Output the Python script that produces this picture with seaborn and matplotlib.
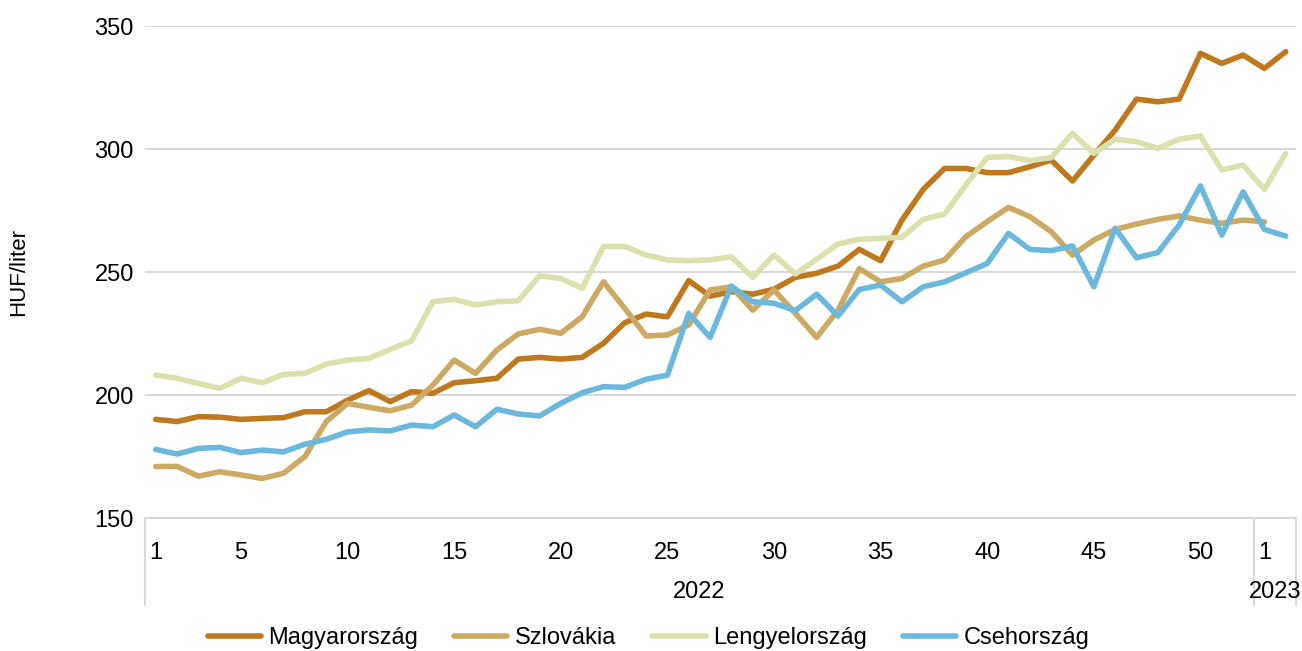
import numpy as np
import pandas as pd
import matplotlib.pyplot as plt
import seaborn as sns

# Weekly fuel prices (HUF/liter), 2022 week 1 .. 2023 week 2
weeks = list(range(1, 53)) + [1, 2]
years = ["2022"] * 52 + ["2023"] * 2

magyarorszag = [190.1, 189.2, 191.2, 191.0, 190.1, 190.5, 190.8, 193.2, 193.2, 197.9,
                201.8, 197.3, 201.4, 200.7, 205.0, 205.8, 206.8, 214.6, 215.3, 214.6,
                215.3, 221.0, 229.4, 232.9, 231.8, 246.5, 240.2, 242.0, 241.0, 243.0,
                247.8, 249.5, 252.4, 259.2, 254.6, 271.1, 283.6, 292.1, 292.1, 290.4,
                290.4, 292.8, 295.5, 287.0, 297.5, 307.7, 320.3, 319.2, 320.3, 338.9,
                334.8, 338.2, 332.8, 339.6]
szlovakia = [170.9, 171.0, 167.0, 168.8, 167.5, 166.1, 168.2, 175.0, 189.2, 196.6,
             195.0, 193.6, 195.9, 204.0, 214.2, 208.8, 218.3, 224.8, 226.7, 225.1,
             231.8, 246.0, 235.2, 224.0, 224.4, 228.5, 242.7, 244.0, 234.5, 242.7,
             233.2, 223.4, 234.5, 251.4, 246.0, 247.4, 252.4, 254.9, 264.4, 270.5,
             276.3, 272.5, 266.4, 256.9, 263.0, 267.3, 269.5, 271.4, 272.8, 271.1,
             269.8, 271.1, 270.4, np.nan]
lengyelorszag = [208.1, 206.8, 204.7, 202.7, 206.8, 205.0, 208.4, 208.8, 212.6, 214.2,
                 214.9, 218.6, 222.0, 237.9, 238.9, 236.6, 237.9, 238.3, 248.4, 247.4,
                 243.4, 260.4, 260.4, 256.9, 254.9, 254.6, 254.9, 256.2, 247.8, 256.9,
                 249.2, 255.2, 261.4, 263.3, 263.7, 264.1, 271.4, 273.6, 285.4, 296.6,
                 296.9, 295.3, 296.5, 306.4, 298.2, 304.0, 303.0, 300.3, 304.0, 305.3,
                 291.5, 293.5, 283.6, 298.2]
csehorszag = [177.9, 176.0, 178.3, 178.7, 176.6, 177.6, 176.9, 180.0, 182.0, 185.0,
              185.8, 185.4, 187.8, 187.1, 191.9, 187.1, 194.2, 192.3, 191.5, 196.6,
              200.9, 203.4, 203.1, 206.4, 208.1, 233.2, 223.4, 244.3, 237.9, 237.3,
              234.3, 241.0, 232.1, 242.9, 244.7, 237.9, 244.0, 246.0, 249.7, 253.5,
              265.7, 259.2, 258.7, 260.6, 244.0, 267.8, 255.8, 257.9, 269.1, 285.0,
              265.0, 282.6, 267.3, 264.6]

countries = ["Magyarország", "Szlovákia", "Lengyelország", "Csehország"]
colors = ["#BE781E", "#CDAA64", "#DCE0AC", "#6BB8DC"]

pos = np.arange(1, len(weeks) + 1)
df = pd.DataFrame({"pos": pos,
                   "Magyarország": magyarorszag,
                   "Szlovákia": szlovakia,
                   "Lengyelország": lengyelorszag,
                   "Csehország": csehorszag})
long = df.melt(id_vars="pos", var_name="orszag", value_name="ar").dropna()

sns.set_style("white")
plt.rcParams["font.family"] = ["Liberation Sans", "DejaVu Sans"]
plt.rcParams["text.color"] = "black"
plt.rcParams["xtick.color"] = "black"
plt.rcParams["ytick.color"] = "black"

fig = plt.figure(figsize=(13.02, 6.51), dpi=100)
ax = fig.add_axes([0.1114, 0.2043, 0.8843, 0.7557])

sns.lineplot(data=long, x="pos", y="ar", hue="orszag", hue_order=countries,
             palette=colors, linewidth=4.0, errorbar=None, ax=ax,
             solid_joinstyle="round", solid_capstyle="round")

ax.set_xlim(0.5, len(weeks) + 0.5)
ax.set_ylim(150, 350)
ax.set_yticks([150, 200, 250, 300, 350])
ax.yaxis.grid(True, color="#D9D9D9", linewidth=1.5)
ax.set_axisbelow(True)
for s in ["left", "right", "top"]:
    ax.spines[s].set_visible(False)
ax.spines["bottom"].set_color("#D9D9D9")
ax.spines["bottom"].set_linewidth(1.5)

# week tick labels: 1, 5, 10, ... and first week of new year
tick_pos = [p for p, w in zip(pos, weeks) if w == 1 or w % 5 == 0]
tick_lab = [str(w) for w, p in zip(weeks, pos) if w == 1 or w % 5 == 0]
ax.set_xticks(tick_pos)
ax.set_xticklabels(tick_lab)
ax.tick_params(axis="x", length=0, pad=17, labelsize=17, labelcolor="black")
ax.tick_params(axis="y", length=0, pad=8, labelsize=17, labelcolor="black")
ax.set_xlabel("")
ax.set_ylabel("")
fig.text(19 / 1302, 1 - 272 / 651, "HUF/liter", rotation=90, ha="center", va="center",
         fontsize=16, color="black")

# year labels and separators below the axis
trans = ax.get_xaxis_transform()
for yr in ["2022", "2023"]:
    p = pos[[y == yr for y in years]]
    ax.text(p.mean(), -0.15, yr, transform=trans, ha="center", va="center",
            fontsize=17, color="black")
sep = [0.5] + [pos[i] + 0.5 for i in range(len(years) - 1) if years[i] != years[i + 1]] + [len(weeks) + 0.5]
for x in sep:
    ax.plot([x, x], [0, -0.177], transform=trans, color="#D9D9D9", linewidth=1.5, clip_on=False)

handles, labels = ax.get_legend_handles_labels()
ax.get_legend().remove()
leg = fig.legend(handles, labels, loc="center", bbox_to_anchor=(0.498, 0.02), ncol=4,
                 frameon=False, fontsize=17, handlelength=2.25, handletextpad=0.3,
                 columnspacing=1.55)
for t in leg.get_texts():
    t.set_color("black")

plt.savefig("out.png", dpi=100)
